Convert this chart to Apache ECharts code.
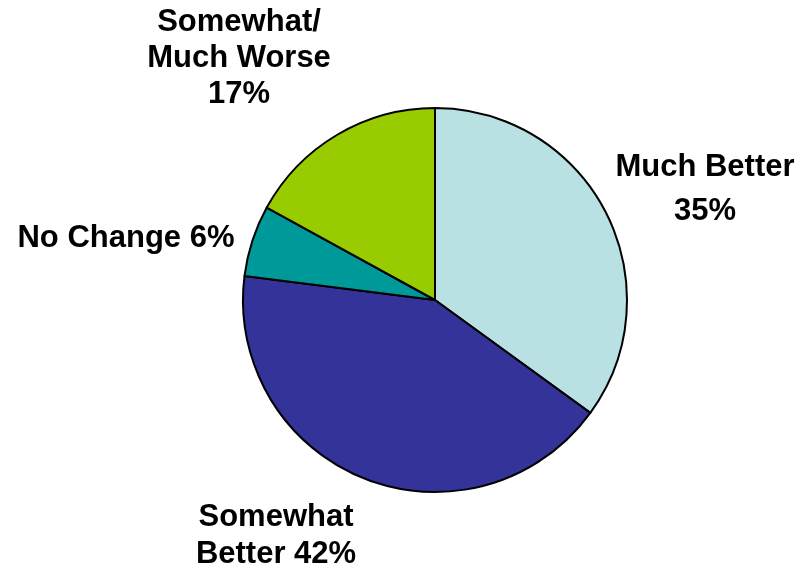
<!DOCTYPE html>
<html>
<head>
<meta charset="utf-8">
<script src="https://cdn.jsdelivr.net/npm/echarts@6/dist/echarts.min.js"></script>
<style>
  html, body { margin: 0; padding: 0; background: #ffffff; }
  #chart { width: 800px; height: 573px; }
</style>
</head>
<body>
<div id="chart"></div>
<script>
// Survey outcome shares (percent)
const categories = ['Much Better', 'Somewhat Better', 'No Change', 'Somewhat/Much Worse'];
const shares = [35, 42, 6, 17];
const sliceColors = ['#B9E0E3', '#333399', '#009999', '#99CC00'];
// Label text per slice; {v} is replaced by the share
const labelTemplates = ['Much Better\n{v}%', 'Somewhat\nBetter {v}%', 'No Change {v}%', 'Somewhat/\nMuch Worse\n{v}%'];

// Where each label block sits (centre of the block) and its line spacing
const labelSpots = [
  { x: 705, y: 189, lh: 44 },
  { x: 276, y: 536, lh: 37 },
  { x: 126, y: 238, lh: 36 },
  { x: 239, y: 58, lh: 36 }
];

const chart = echarts.init(document.getElementById('chart'), null, { renderer: 'canvas' });

const data = categories.map((name, i) => ({
  name: name,
  value: shares[i],
  itemStyle: { color: sliceColors[i] },
  label: { lineHeight: labelSpots[i].lh }
}));

chart.setOption({
  animation: false,
  backgroundColor: '#ffffff',
  series: [{
    type: 'pie',
    center: [435, 300],
    radius: 192,
    startAngle: 90,
    clockwise: true,
    data: data,
    itemStyle: { borderColor: '#000000', borderWidth: 2 },
    emphasis: { disabled: true },
    label: {
      show: true,
      position: 'outside',
      formatter: p => labelTemplates[p.dataIndex].replace('{v}', p.value),
      fontFamily: 'Liberation Sans, Arial, sans-serif',
      fontWeight: 'bold',
      fontSize: 31,
      color: '#000000',
      align: 'center',
      overflow: 'none'
    },
    labelLine: { show: false },
    labelLayout: p => ({
      x: labelSpots[p.dataIndex].x,
      y: labelSpots[p.dataIndex].y,
      align: 'center',
      verticalAlign: 'middle',
      hideOverlap: false
    })
  }]
});
</script>
</body>
</html>
